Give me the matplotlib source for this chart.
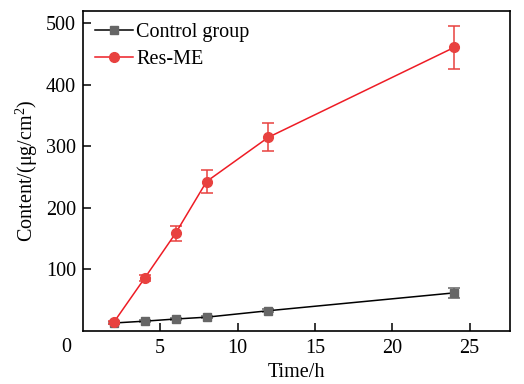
import numpy as np
import matplotlib
matplotlib.use("Agg")
import matplotlib.pyplot as plt

plt.rcParams["font.family"] = ["Liberation Serif", "DejaVu Serif"]
plt.rcParams["mathtext.fontset"] = "custom"
plt.rcParams["mathtext.rm"] = "Liberation Serif"

time_h = [2, 4, 6, 8, 12, 24]
control = [13, 16, 19.5, 22.5, 33, 62]
control_err = [2, 2, 2, 2, 2, 8]
res_me = [14, 86, 159, 243, 315, 461]
res_me_err = [3, 5, 12, 18, 23, 35]

fs = 14.5

fig = plt.figure(figsize=(5.24, 3.84), dpi=100)
ax = fig.add_axes([0.158, 0.138, 0.815, 0.833])

c1 = ax.errorbar(time_h, control, yerr=control_err, color="black", lw=1.1,
                 marker="s", ms=6, mfc="#666666", mec="#666666",
                 ecolor="#666666", elinewidth=1.1, capsize=4, capthick=1.1)
c2 = ax.errorbar(time_h, res_me, yerr=res_me_err, color="#EE1C25", lw=1.1,
                 marker="o", ms=7, mfc="#E8413F", mec="#E8413F",
                 ecolor="#E8413F", elinewidth=1.1, capsize=4, capthick=1.1)

ax.set_xlim(0, 27.6)
ax.set_ylim(0, 520)
ax.set_xticks([5, 10, 15, 20, 25])
ax.set_yticks([100, 200, 300, 400, 500])
ax.tick_params(direction="in", length=6, width=1.1, labelsize=fs, pad=5)
ax.tick_params(axis="x", pad=6)
for s in ax.spines.values():
    s.set_linewidth(1.2)
ax.text(-0.039, -0.05, "0", transform=ax.transAxes, ha="center", va="center",
        fontsize=fs)

ax.set_xlabel("Time/h", fontsize=fs, labelpad=3)
ax.set_ylabel("Content/(μg/cm$^2$)", fontsize=fs, labelpad=4)

ax.legend([c1.lines[0], c2.lines[0]], ["Control group", "Res-ME"],
          loc="upper left", frameon=False, fontsize=fs, handlelength=1.9,
          handletextpad=0.15, borderaxespad=0.2, labelspacing=0.4,
          bbox_to_anchor=(0.0, 1.0))

fig.savefig("out.png", dpi=100)
